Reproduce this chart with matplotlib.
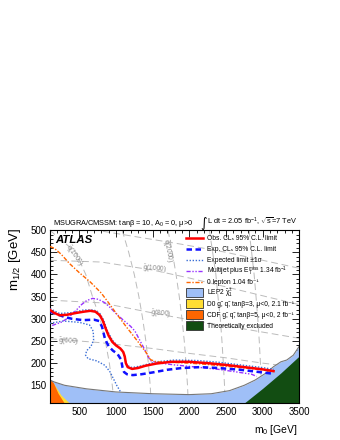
import matplotlib
matplotlib.use("Agg")
import matplotlib.pyplot as plt
from matplotlib.ticker import MultipleLocator
from matplotlib.lines import Line2D
from matplotlib.patches import Rectangle

plt.rcParams['font.family'] = ['Liberation Sans', 'DejaVu Sans']
plt.rcParams['mathtext.fontset'] = 'custom'
plt.rcParams['mathtext.rm'] = 'Liberation Sans'
plt.rcParams['mathtext.it'] = 'Liberation Sans:italic'
plt.rcParams['mathtext.bf'] = 'Liberation Sans:bold'
plt.rcParams['mathtext.default'] = 'regular'

# ---------- limit contours, (m0, m1/2) in GeV ----------
obs_m0 = [100, 150, 230, 330, 450, 560, 650, 720, 780, 820, 860, 900, 950, 1000, 1060,
          1100, 1120, 1135, 1160, 1220, 1300, 1400, 1550, 1750, 2000, 2250, 2500, 2750,
          3000, 3150]
obs_m12 = [320, 314, 308, 309, 313, 316, 318, 316, 308, 296, 278, 262, 248, 240, 233,
           225, 215, 200, 191, 187, 189, 194, 199, 203, 203, 200, 196, 191, 186, 182]

exp_m0 = [100, 200, 300, 400, 550, 700, 770, 810, 850, 900, 960, 1020, 1070, 1090, 1110,
          1150, 1230, 1350, 1500, 1700, 1900, 2150, 2400, 2700, 3000, 3150]
exp_m12 = [316, 310, 304, 300, 297, 298, 295, 282, 255, 238, 228, 221, 208, 190, 180,
           175, 173, 175, 179, 185, 189, 191, 189, 185, 179, 176]

up1s_m0 = [100, 230, 400, 560, 700, 780, 830, 880, 950, 1030, 1090, 1120, 1150, 1220,
           1350, 1550, 1800, 2100, 2400, 2700, 3000, 3150]
up1s_m12 = [323, 312, 314, 320, 320, 312, 298, 274, 252, 238, 228, 210, 195, 190,
            194, 203, 207, 206, 202, 196, 190, 186]

dn1s_m0 = [100, 280, 500, 640, 690, 695, 660, 600, 585, 620, 740, 850, 920, 965, 1010, 1060]
dn1s_m12 = [290, 295, 292, 286, 272, 252, 238, 228, 218, 210, 205, 195, 180, 165, 150, 136]

mj_m0 = [130, 250, 350, 450, 530, 600, 680, 760, 850, 930, 1000, 1100, 1200, 1260, 1330,
         1400, 1440, 1480, 1600, 1800, 2100, 2400, 2650, 2850, 2920]
mj_m12 = [285, 292, 302, 318, 332, 341, 346, 344, 336, 324, 312, 297, 283, 272, 250,
          228, 214, 205, 200, 196, 191, 186, 180, 175, 170]

zl_m0 = [100, 160, 250, 370, 500, 650, 800, 900, 970, 1050, 1150, 1250, 1330, 1420, 1470,
         1550, 1750, 2000, 2250, 2500, 2750, 3000, 3150]
zl_m12 = [463, 459, 446, 424, 404, 383, 358, 336, 320, 302, 280, 259, 242, 222, 208,
          203, 202, 200, 197, 193, 189, 185, 181]

# ---------- excluded regions ----------
lep_m0 = [100, 150, 300, 600, 1000, 1500, 2000, 2300, 2550, 2750, 2900, 3050, 3150, 3250,
          3330, 3420, 3500]
lep_m12 = [162, 158, 150, 142, 135, 131, 129, 131, 138, 150, 162, 178, 192, 203, 207, 218, 238]

d0_m0 = [100, 150, 250, 365]
d0_m12 = [160, 154, 128, 110]

cdf_m0 = [100, 145, 210, 295]
cdf_m12 = [163, 156, 132, 110]

theo_m0 = [2750, 3000, 3250, 3500]
theo_m12 = [110, 143, 178, 216]

# ---------- iso-mass lines ----------
gl600_m0 = [100, 800, 1500, 2000, 2500, 3000, 3500]
gl600_m12 = [255, 246, 233, 222, 212, 200, 190]
gl800_m0 = [100, 800, 1600, 2000, 2500, 3000, 3500]
gl800_m12 = [342, 336, 310, 298, 284, 270, 256]
gl1000_m0 = [100, 800, 1500, 2000, 2500, 3000, 3500]
gl1000_m12 = [432, 428, 410, 392, 372, 352, 332]
gl1200_m0 = [100, 800, 1900, 2500, 3000, 3500]
gl1200_m12 = [515, 498, 468, 450, 432, 414]

sq_m12 = [500, 450, 400, 350, 300, 250, 200, 150, 110]
sq1000_m0 = [96, 453, 588, 680, 783, 855, 910, 950, 974]
sq1500_m0 = [1084, 1174, 1250, 1313, 1365, 1408, 1442, 1467, 1482]
sq2000_m0 = [1710, 1769, 1820, 1864, 1901, 1932, 1956, 1976, 1987]
sq2500_m0 = [2275, 2319, 2363, 2392, 2424, 2446, 2465, 2481, 2490]
sq3000_m0 = [2815, 2851, 2885, 2911, 2935, 2955, 2971, 2984, 2991]

iso_labels = [
    (r'$\tilde{q}$(1000)', 420, 442, -55),
    (r'$\tilde{q}$(2000)', 1700, 452, -79),
    (r'$\tilde{g}$(1000)', 1530, 412, -5),
    (r'$\tilde{g}$(800)', 1610, 310, -5),
    (r'$\tilde{g}$(600)', 360, 247, -3),
]

fig = plt.figure(figsize=(3.4, 4.4), dpi=100)
ax = fig.add_axes([0.147, 0.084, 0.733, 0.393])

iso_style = dict(color='#bbbbbb', lw=0.7, dashes=(7, 4), zorder=1)
for xs, ys in [(gl600_m0, gl600_m12), (gl800_m0, gl800_m12),
               (gl1000_m0, gl1000_m12), (gl1200_m0, gl1200_m12)]:
    ax.plot(xs, ys, **iso_style)
for xs in [sq1000_m0, sq1500_m0, sq2000_m0, sq2500_m0, sq3000_m0]:
    ax.plot(xs, sq_m12, **iso_style)
for txt, x, y, rot in iso_labels:
    ax.text(x, y, txt, fontsize=4.8, color='#888888', rotation=rot,
            ha='center', va='center', zorder=1.5)

# excluded regions
ax.fill_between(lep_m0, lep_m12, 0, color='#9fbff7', lw=0, zorder=2)
ax.fill_between(d0_m0, d0_m12, 0, color='#ffdd33', lw=0, zorder=2.2)
ax.fill_between(cdf_m0, cdf_m12, 0, color='#ff6600', lw=0, zorder=2.3)
ax.plot(lep_m0, lep_m12, color='#777777', lw=0.8, zorder=2.35)
ax.fill_between(theo_m0, theo_m12, 0, color='#124d12', lw=0, zorder=2.4)

# limits
ax.plot(dn1s_m0, dn1s_m12, color='#3b6fd6', lw=1.0, dashes=(1, 1.2), zorder=3)
ax.plot(up1s_m0, up1s_m12, color='#3b6fd6', lw=1.0, dashes=(1, 1.2), zorder=3)
ax.plot(mj_m0, mj_m12, color='#9933ff', lw=1.0, dashes=(3, 1.2, 1, 1.2, 1, 1.2), zorder=3.5)
ax.plot(zl_m0, zl_m12, color='#ff6600', lw=1.0, dashes=(3, 1.2, 1, 1.2), zorder=3.6)
ax.plot(exp_m0, exp_m12, color='#1010ff', lw=1.8, dashes=(2.2, 1.4), zorder=4)
ax.plot(obs_m0, obs_m12, color='#ff0000', lw=1.8, zorder=5)

ax.set_xlim(100, 3500)
ax.set_ylim(110, 500)
ax.xaxis.set_major_locator(MultipleLocator(500))
ax.xaxis.set_minor_locator(MultipleLocator(100))
ax.yaxis.set_major_locator(MultipleLocator(50))
ax.yaxis.set_minor_locator(MultipleLocator(10))
ax.tick_params(which='both', direction='in', top=True, right=True, labelsize=7, pad=2.5)
ax.tick_params(which='major', length=5, width=0.6)
ax.tick_params(which='minor', length=2.5, width=0.6)
for sp in ax.spines.values():
    sp.set_linewidth(0.8)

# ---------- legend drawn by hand ----------
# unicode where possible, keeps the text boxes short
legend_items = [
    ('line', dict(color='#ff0000', lw=1.8), 'Obs. CL\u209b 95% C.L. limit'),
    ('line', dict(color='#1010ff', lw=1.8, dashes=(2.2, 1.4)), 'Exp. CL\u209b 95% C.L. limit'),
    ('line', dict(color='#3b6fd6', lw=1.0, dashes=(1, 1.2)), 'Expected limit \u00b11\u03c3'),
    ('line', dict(color='#9933ff', lw=1.0, dashes=(3, 1.2, 1, 1.2, 1, 1.2)),
     r'Multijet plus E$_{\rm T}^{\rm miss}$ 1.34 fb$^{-1}$'),
    ('line', dict(color='#ff6600', lw=1.0, dashes=(3, 1.2, 1, 1.2)), '0 lepton 1.04 fb\u207b\u00b9'),
    ('box', '#9fbff7', r'LEP2 $\tilde{\chi}_{1}^{\pm}$'),
    ('box', '#ffdd33', 'D0 g\u0303, q\u0303, tan\u03b2=3, \u03bc<0, 2.1 fb\u207b\u00b9'),
    ('box', '#ff6600', 'CDF g\u0303, q\u0303, tan\u03b2=5, \u03bc<0, 2 fb\u207b\u00b9'),
    ('box', '#124d12', 'Theoretically excluded'),
]
y0, dy = 0.954, 0.063
hx0, hx1, tx = 0.5455, 0.615, 0.6285
for i, (kind, sty, label) in enumerate(legend_items):
    y = y0 - i * dy
    if kind == 'line':
        ax.add_line(Line2D([hx0, hx1], [y, y], transform=ax.transAxes, clip_on=False,
                           zorder=6, **sty))
    else:
        ax.add_patch(Rectangle((hx0, y - 0.025), hx1 - hx0, 0.05, transform=ax.transAxes,
                               facecolor=sty, edgecolor='#333333', lw=0.6, zorder=6))
    ax.text(tx, y - 0.0135, label, transform=ax.transAxes, fontsize=4.8,
            ha='left', va='baseline', zorder=6)

ax.text(0.02, 0.944, 'ATLAS', transform=ax.transAxes, fontsize=8.2,
        fontweight='bold', fontstyle='italic', ha='left', va='center', zorder=6)

fig.text(53 / 340, 217 / 440, r'MSUGRA/CMSSM: tan$\beta$ = 10, A$_0$ = 0, $\mu$>0',
         fontsize=5.3, ha='left', va='center')
lumi = fig.text(297 / 340, 215.5 / 440, r'L dt = 2.05 fb$^{-1}$, $\sqrt{s}$=7 TeV',
                fontsize=5.3, ha='right', va='baseline')
# tall integral sign in front of the luminosity text
fig.canvas.draw()
bb = lumi.get_window_extent(fig.canvas.get_renderer())
fig.text((bb.x0 - 0.5) / 340, 212.5 / 440, '\u222b', fontsize=9, ha='right', va='baseline',
         family=['DejaVu Sans'])

fig.text(15 / 340, 212 / 440, r'm$_{1/2}$ [GeV]', rotation=90, fontsize=9.5,
         ha='center', va='top')
fig.text(298 / 340, 10 / 440, r'm$_0$ [GeV]', fontsize=7.5, ha='right', va='center')

fig.savefig('out.png', dpi=100)
